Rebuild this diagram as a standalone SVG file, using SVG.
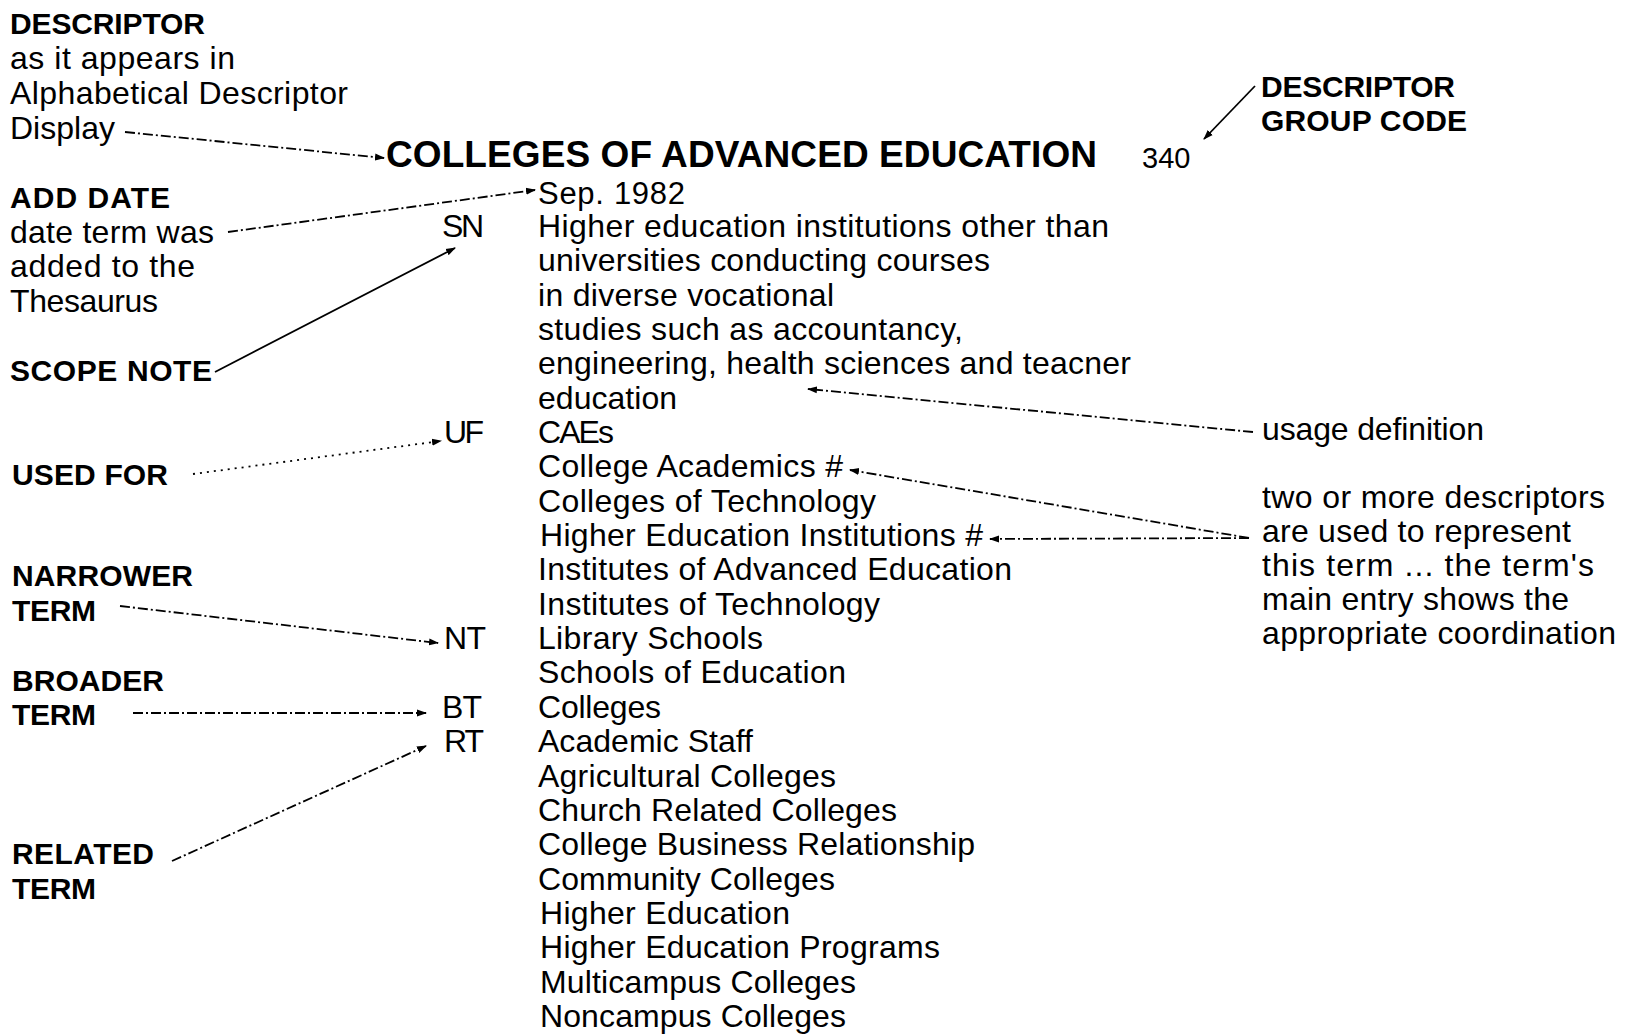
<svg xmlns="http://www.w3.org/2000/svg" width="1632" height="1034" viewBox="0 0 1632 1034">
<defs>
<style>
.b{font-family:"Liberation Sans",Arial,sans-serif;font-weight:bold;font-size:30px;fill:#000}
.n{font-family:"Liberation Sans",Arial,sans-serif;font-size:32px;fill:#000}
.l{font-family:"Liberation Sans",Arial,sans-serif;font-size:32px;fill:#000}
.t{font-family:"Liberation Sans",Arial,sans-serif;font-weight:bold;font-size:37px;fill:#000}
.c{font-family:"Liberation Sans",Arial,sans-serif;font-size:29px;fill:#000}
.ln{fill:none;stroke:#000;stroke-width:1.8}
.d{stroke-dasharray:10 3 2 3}
.o{stroke-dasharray:2 5}
</style>
<marker id="ah" viewBox="0 0 10 10" refX="9" refY="5" markerWidth="10" markerHeight="10" orient="auto" markerUnits="userSpaceOnUse"><path d="M0,1.5 L10,5 L0,8.5 z" fill="#000"/></marker>
</defs>
<rect width="1632" height="1034" fill="#fff"/>

<g id="lbl-descriptor">
<text class="b" x="10" y="34" textLength="195">DESCRIPTOR</text>
<text class="n" x="10" y="69" textLength="225">as it appears in</text>
<text class="n" x="10" y="104" textLength="338">Alphabetical Descriptor</text>
<text class="n" x="10" y="139" textLength="105">Display</text>
</g>
<g id="lbl-adddate">
<text class="b" x="10" y="208" textLength="160">ADD DATE</text>
<text class="n" x="10" y="243" textLength="204">date term was</text>
<text class="n" x="10" y="277" textLength="185">added to the</text>
<text class="n" x="10" y="312" textLength="148">Thesaurus</text>
</g>
<g id="lbl-scope"><text class="b" x="10" y="381" textLength="202">SCOPE NOTE</text></g>
<g id="lbl-usedfor"><text class="b" x="12" y="485" textLength="156">USED FOR</text></g>
<g id="lbl-narrower">
<text class="b" x="12" y="586" textLength="181">NARROWER</text>
<text class="b" x="12" y="621" textLength="84">TERM</text>
</g>
<g id="lbl-broader">
<text class="b" x="12" y="691" textLength="152">BROADER</text>
<text class="b" x="12" y="725" textLength="84">TERM</text>
</g>
<g id="lbl-related">
<text class="b" x="12" y="864" textLength="142">RELATED</text>
<text class="b" x="12" y="899" textLength="84">TERM</text>
</g>
<g id="lbl-groupcode">
<text class="b" x="1261" y="97" textLength="194">DESCRIPTOR</text>
<text class="b" x="1261" y="131" textLength="206">GROUP CODE</text>
</g>
<g id="lbl-usage"><text class="n" x="1262" y="440" textLength="222">usage definition</text></g>
<g id="lbl-coord">
<text class="n" x="1262" y="508" textLength="343">two or more descriptors</text>
<text class="n" x="1262" y="542" textLength="309">are used to represent</text>
<text class="n" x="1262" y="576" textLength="332">this term ... the term's</text>
<text class="n" x="1262" y="610" textLength="307">main entry shows the</text>
<text class="n" x="1262" y="644" textLength="354">appropriate coordination</text>
</g>

<g id="entry-title">
<text class="t" x="386" y="167" textLength="711">COLLEGES OF ADVANCED EDUCATION</text>
<text class="c" x="1142" y="168">340</text>
</g>
<g id="entry-date"><text class="l" x="538" y="204" style="font-size:31px" textLength="147">Sep. 1982</text></g>
<g id="entry-sn">
<text class="l" x="442" y="237" textLength="42">SN</text>
<text class="l" x="538" y="237" textLength="571">Higher education institutions other than</text>
<text class="l" x="538" y="271" textLength="452">universities conducting courses</text>
<text class="l" x="538" y="306" textLength="296">in diverse vocational</text>
<text class="l" x="538" y="340" textLength="425">studies such as accountancy,</text>
<text class="l" x="538" y="374" textLength="593">engineering, health sciences and teacner</text>
<text class="l" x="538" y="409" textLength="139">education</text>
</g>
<g id="entry-uf">
<text class="l" x="444" y="443" textLength="40">UF</text>
<text class="l" x="538" y="443" textLength="76">CAEs</text>
<text class="l" x="538" y="477" textLength="305">College Academics #</text>
<text class="l" x="538" y="512" textLength="338">Colleges of Technology</text>
<text class="l" x="540" y="546" textLength="443">Higher Education Institutions #</text>
<text class="l" x="538" y="580" textLength="474">Institutes of Advanced Education</text>
<text class="l" x="538" y="615" textLength="342">Institutes of Technology</text>
</g>
<g id="entry-nt">
<text class="l" x="444" y="649" textLength="42">NT</text>
<text class="l" x="538" y="649" textLength="225">Library Schools</text>
<text class="l" x="538" y="683" textLength="308">Schools of Education</text>
</g>
<g id="entry-bt">
<text class="l" x="442" y="718" textLength="40">BT</text>
<text class="l" x="538" y="718" textLength="123">Colleges</text>
</g>
<g id="entry-rt">
<text class="l" x="444" y="752" textLength="40">RT</text>
<text class="l" x="538" y="752" textLength="215">Academic Staff</text>
<text class="l" x="538" y="787" textLength="298">Agricultural Colleges</text>
<text class="l" x="538" y="821" textLength="359">Church Related Colleges</text>
<text class="l" x="538" y="855" textLength="437">College Business Relationship</text>
<text class="l" x="538" y="890" textLength="297">Community Colleges</text>
<text class="l" x="540" y="924" textLength="250">Higher Education</text>
<text class="l" x="540" y="958" textLength="400">Higher Education Programs</text>
<text class="l" x="540" y="993" textLength="316">Multicampus Colleges</text>
<text class="l" x="540" y="1027" textLength="306">Noncampus Colleges</text>
</g>

<g id="connectors">
<line class="ln d" x1="125" y1="132" x2="384" y2="158" marker-end="url(#ah)"/>
<line class="ln d" x1="228" y1="232" x2="535" y2="190" marker-end="url(#ah)"/>
<line class="ln" x1="215" y1="372" x2="455" y2="248" marker-end="url(#ah)"/>
<line class="ln o" x1="193" y1="474" x2="441" y2="441" marker-end="url(#ah)"/>
<line class="ln d" x1="120" y1="606" x2="438" y2="643" marker-end="url(#ah)"/>
<line class="ln d" x1="133" y1="713" x2="426" y2="713" marker-end="url(#ah)"/>
<line class="ln d" x1="172" y1="861" x2="426" y2="746" marker-end="url(#ah)"/>
<line class="ln" x1="1255" y1="86" x2="1204" y2="139" marker-end="url(#ah)"/>
<line class="ln d" x1="1253" y1="432" x2="808" y2="389" marker-end="url(#ah)"/>
<line class="ln d" x1="1249" y1="538" x2="850" y2="470" marker-end="url(#ah)"/>
<line class="ln d" x1="1249" y1="538" x2="990" y2="539" marker-end="url(#ah)"/>
</g>
</svg>
